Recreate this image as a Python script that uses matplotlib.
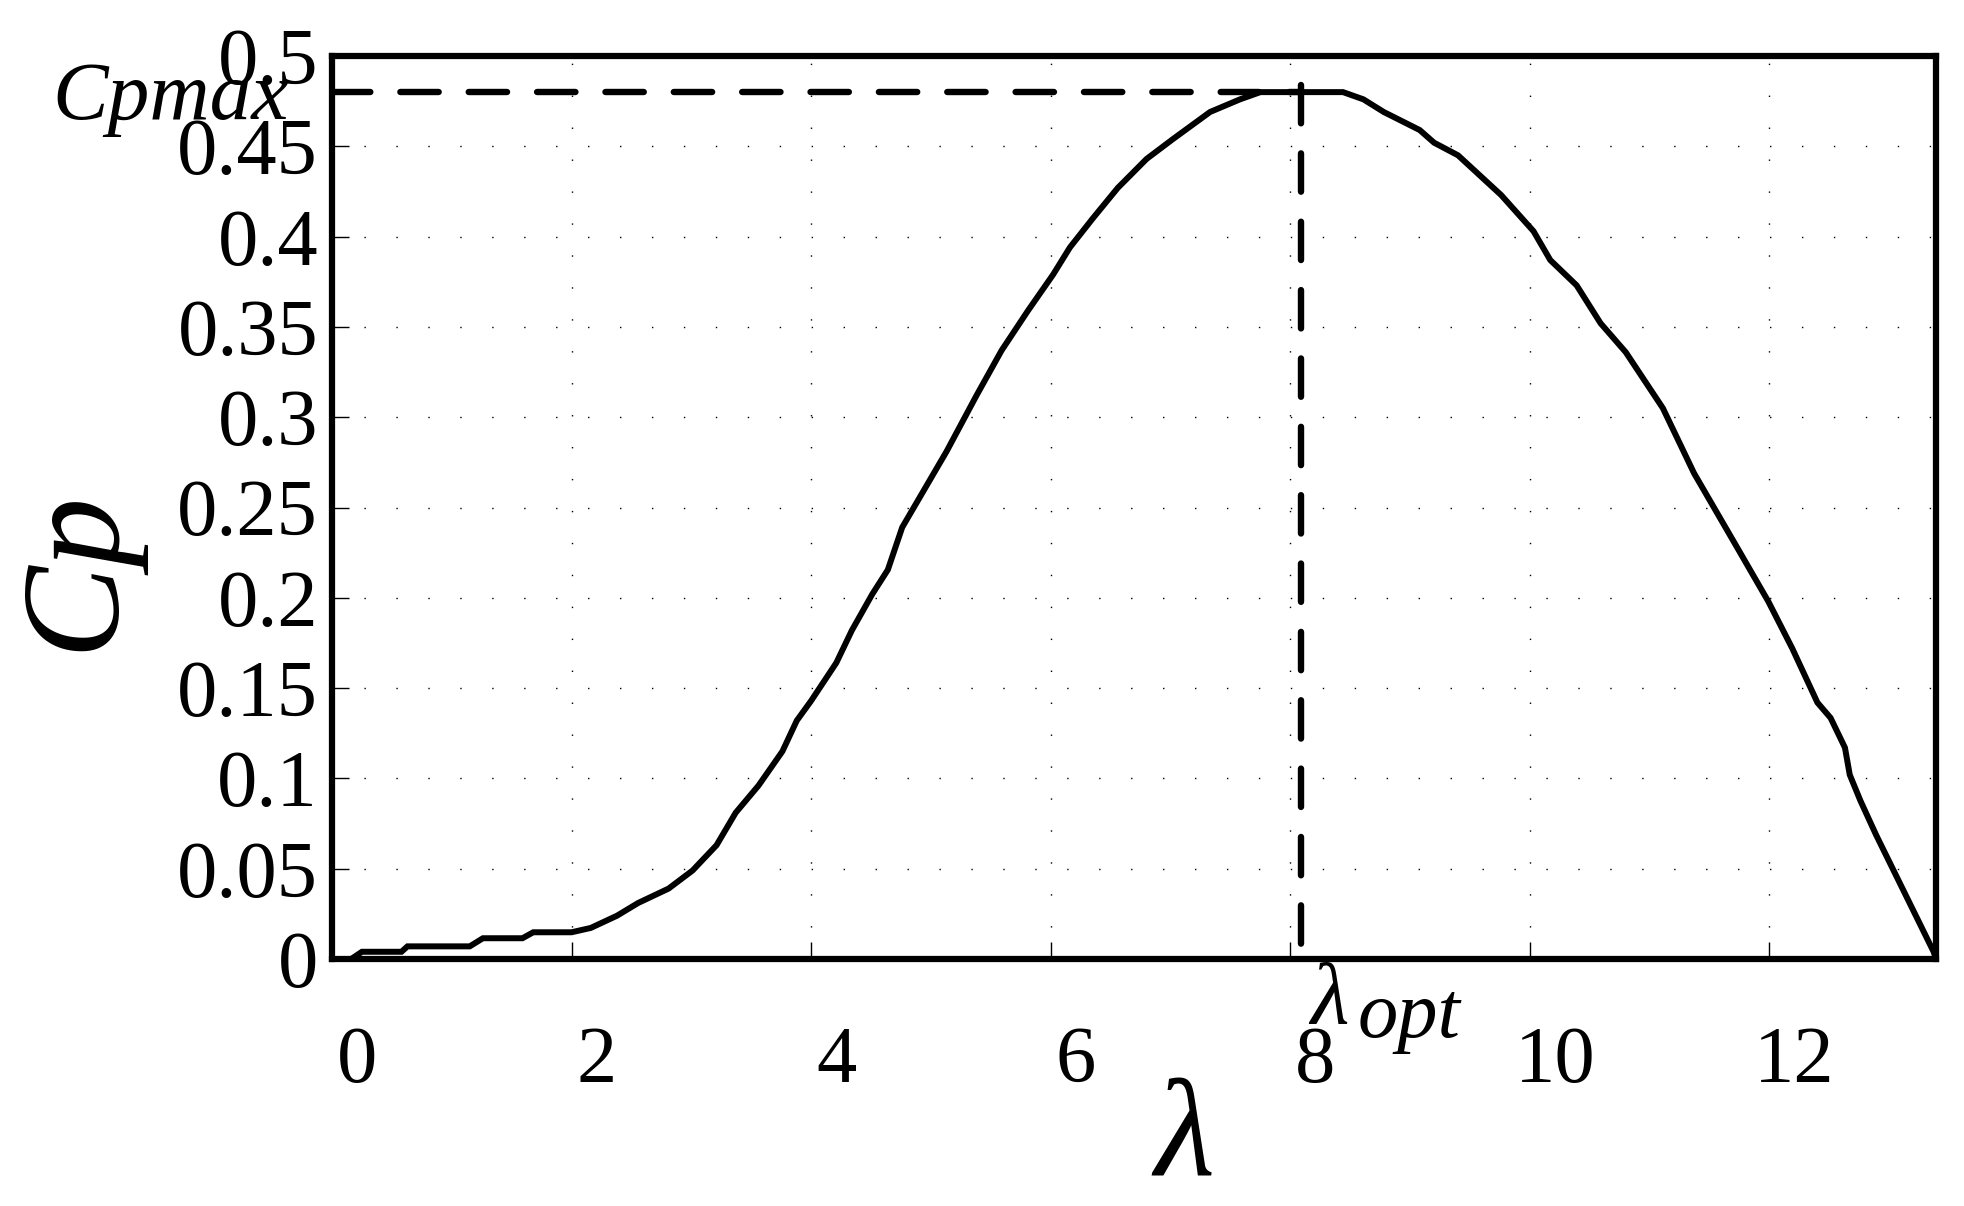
import matplotlib
matplotlib.use("Agg")
import matplotlib.pyplot as plt
import matplotlib.transforms as mtransforms

# data (tip speed ratio vs power coefficient)
lam = [0.0, 0.16, 0.25, 0.58, 0.63, 1.15, 1.26, 1.59, 1.68, 2.0, 2.16, 2.38,
       2.555, 2.81, 3.01, 3.21, 3.37, 3.56, 3.76, 3.88, 4.0, 4.21, 4.34, 4.51,
       4.64, 4.76, 5.13, 5.38, 5.59, 5.81, 6.02, 6.16, 6.35, 6.56, 6.80, 7.02,
       7.33, 7.58, 7.75, 8.44, 8.61, 8.78, 9.08, 9.20, 9.40, 9.76, 10.03,
       10.17, 10.39, 10.59, 10.80, 11.11, 11.37, 11.72, 11.99, 12.19, 12.40,
       12.51, 12.63, 12.67, 12.76, 12.89, 13.37, 13.39]
cp = [0.0, 0.0, 0.004, 0.004, 0.007, 0.007, 0.0115, 0.0115, 0.0148, 0.0148,
      0.0172, 0.024, 0.031, 0.039, 0.049, 0.063, 0.081, 0.096, 0.115, 0.132,
      0.143, 0.164, 0.182, 0.202, 0.2155, 0.239, 0.281, 0.312, 0.337, 0.359,
      0.379, 0.394, 0.410, 0.427, 0.443, 0.454, 0.469, 0.476, 0.480, 0.480,
      0.476, 0.469, 0.459, 0.452, 0.445, 0.423, 0.403, 0.387, 0.373, 0.352,
      0.336, 0.305, 0.269, 0.229, 0.198, 0.172, 0.142, 0.1335, 0.117, 0.102,
      0.0875, 0.0687, 0.004, 0.0]

cp_max = 0.480
lam_opt = 8.09

x_ticks = [0, 2, 4, 6, 8, 10, 12]
y_ticks = [0, 0.05, 0.1, 0.15, 0.2, 0.25, 0.3, 0.35, 0.4, 0.45, 0.5]
y_ticklabels = ['0', '0.05', '0.1', '0.15', '0.2', '0.25', '0.3', '0.35', '0.4', '0.45', '0.5']

W, H = 1965, 1206
fig = plt.figure(figsize=(W / 100, H / 100), dpi=100)
ax = fig.add_axes([332 / W, 1 - 959 / H, (1936 - 332) / W, (959 - 56) / H])

serif = 'Liberation Serif'

ax.plot(lam, cp, color='black', lw=4.3, solid_joinstyle='miter')
# dashed guide lines for Cpmax / lambda_opt
ax.plot([0, lam_opt], [cp_max, cp_max], color='black', lw=4.6,
        dashes=(6.0, 4.7), dash_capstyle='round')
ax.plot([lam_opt, lam_opt], [0.484, 0], color='black', lw=4.6,
        dashes=(6.0, 4.7), dash_capstyle='round')

ax.set_xlim(0, 13.39)
ax.set_ylim(0, 0.5)
ax.set_xticks(x_ticks)
ax.set_xticklabels([str(t) for t in x_ticks])
ax.set_yticks(y_ticks)
ax.set_yticklabels(y_ticklabels)

ax.grid(True, color='black', lw=1.0, linestyle=(0, (1, 22)))
ax.tick_params(direction='in', length=12, width=1.0, labelsize=58, colors='black')
ax.tick_params(axis='x', pad=48)
ax.tick_params(axis='y', pad=10)
for lbl in ax.get_xticklabels() + ax.get_yticklabels():
    lbl.set_fontfamily(serif)
# x labels sit a bit right of their ticks, like the original
offset = mtransforms.ScaledTranslation(0.25, 0, fig.dpi_scale_trans)
for lbl in ax.get_xticklabels():
    lbl.set_transform(lbl.get_transform() + offset)

for s in ax.spines.values():
    s.set_linewidth(4.5)

# axis titles
fig.text(78 / W, 1 - 570 / H, 'Cp', fontfamily=serif, style='italic',
         fontsize=100, rotation=90, ha='center', va='center')
fig.text(1184 / W, 1 - 1143 / H, 'λ', fontfamily=serif, style='italic',
         fontsize=100, ha='center', va='center')

fig.text(52 / W, 1 - 119 / H, 'Cpmax', fontfamily=serif, style='italic',
         fontsize=60, ha='left', va='baseline')
fig.text(1310 / W, 1 - 1023 / H, 'λ', fontfamily=serif, style='italic',
         fontsize=64, ha='left', va='baseline')
fig.text(1358 / W, 1 - 1037 / H, 'opt', fontfamily=serif, style='italic',
         fontsize=58, ha='left', va='baseline')

fig.savefig('out.png', dpi=100, facecolor='white')
